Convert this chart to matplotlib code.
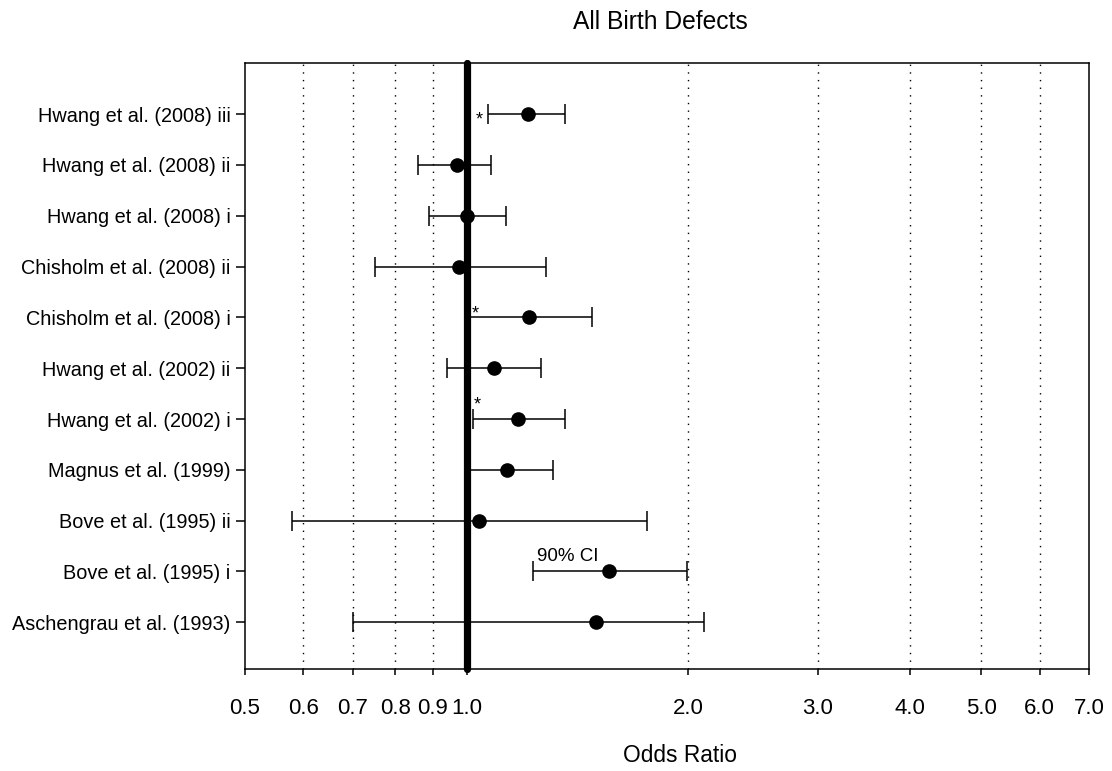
import matplotlib
matplotlib.use("Agg")
import matplotlib.pyplot as plt
import numpy as np

studies = ["Hwang et al. (2008) iii", "Hwang et al. (2008) ii", "Hwang et al. (2008) i",
           "Chisholm et al. (2008) ii", "Chisholm et al. (2008) i", "Hwang et al. (2002) ii",
           "Hwang et al. (2002) i", "Magnus et al. (1999)", "Bove et al. (1995) ii",
           "Bove et al. (1995) i", "Aschengrau et al. (1993)"]
odds_ratio = [1.21, 0.97, 1.00, 0.975, 1.215, 1.09, 1.175, 1.135, 1.04, 1.56, 1.50]
ci_low = [1.07, 0.86, 0.89, 0.75, 1.01, 0.94, 1.02, 1.00, 0.58, 1.23, 0.70]
ci_high = [1.36, 1.08, 1.13, 1.28, 1.48, 1.26, 1.36, 1.31, 1.76, 1.99, 2.10]
significant = [True, False, False, False, True, False, True, False, False, False, False]
star_x = [1.039, None, None, None, 1.028, None, 1.034, None, None, None, None]
star_dy = [-0.08, 0, 0, 0, 0.09, 0, 0.31, 0, 0, 0, 0]
xticks = [0.5, 0.6, 0.7, 0.8, 0.9, 1.0, 2.0, 3.0, 4.0, 5.0, 6.0, 7.0]
xtick_labels = ["0.5", "0.6", "0.7", "0.8", "0.9", "1.0", "2.0", "3.0", "4.0", "5.0", "6.0", "7.0"]
grid_x = [0.6, 0.7, 0.8, 0.9, 2.0, 3.0, 4.0, 5.0, 6.0]

plt.rcParams['font.family'] = ['Liberation Sans', 'DejaVu Sans']

fig = plt.figure(figsize=(11.12, 7.71), dpi=100)
ax = fig.add_axes([245/1112, 1 - 669.3/771, (1089-245)/1112, (669.3-63.3)/771])

n = len(studies)
ypos = np.arange(n, 0, -1)

for gx in grid_x:
    ax.axvline(gx, color='black', lw=1.0, linestyle=(0, (1, 4.5)), zorder=1)

ax.axvline(1.0, color='black', lw=5.2, solid_capstyle='round', clip_on=False, zorder=2)

ax.errorbar(odds_ratio, ypos,
            xerr=[np.array(odds_ratio) - np.array(ci_low), np.array(ci_high) - np.array(odds_ratio)],
            fmt='o', color='black', ms=9.5, elinewidth=1.1, capsize=7, capthick=1.1, zorder=3)

fs_star = 13
for i in range(n):
    if significant[i]:
        ax.annotate('*', xy=(star_x[i], ypos[i] + star_dy[i]), xytext=(0, -0.57 * fs_star + 3),
                    textcoords='offset points', ha='center', va='baseline', fontsize=fs_star)

ax.text(1.244, 2.21, "90% CI", ha='left', va='baseline', fontsize=13.5)

ax.set_xscale('log')
ax.set_xlim(0.5, 7.0)
ax.set_ylim(0.075, 12.0)
ax.set_xticks(xticks)
ax.set_xticklabels(xtick_labels, fontsize=16)
ax.minorticks_off()
ax.set_yticks(ypos)
ax.set_yticklabels(studies, fontsize=14.3)
ax.tick_params(axis='x', direction='out', length=4, width=1.1, pad=17)
ax.tick_params(axis='y', direction='out', length=6.5, width=1.1, pad=4)
for s in ax.spines.values():
    s.set_linewidth(1.1)

fig.text(660/1112, 1 - 22/771, "All Birth Defects", ha='center', va='center', fontsize=17.7)
fig.text(680/1112, 1 - 755/771, "Odds Ratio", ha='center', va='center', fontsize=16.4)

fig.savefig("out.png", dpi=100)
